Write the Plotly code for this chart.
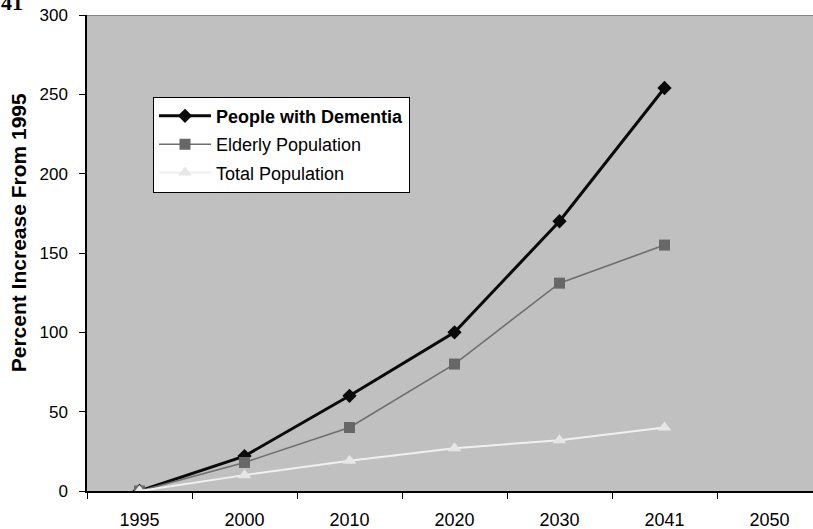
import plotly.graph_objects as go

# Census years shown on the category axis (2050 has no projection yet)
years = ["1995", "2000", "2010", "2020", "2030", "2041", "2050"]

# Percent increase from 1995
dementia = [0, 22, 60, 100, 170, 254, None]
elderly = [0, 18, 40, 80, 131, 155, None]
total_pop = [0, 10, 19, 27, 32, 40, None]

series_names = ["<b>People with Dementia</b>", "Elderly Population", "Total Population"]
y_ticks = [0, 50, 100, 150, 200, 250, 300]

FONT = "Liberation Sans, Arial, sans-serif"

fig = go.Figure()

fig.add_trace(go.Scatter(
    x=years, y=dementia, name=series_names[0], legendgroup="a",
    mode="lines+markers",
    line=dict(color="#0a0a0a", width=3),
    marker=dict(symbol="diamond", size=11, color="#0a0a0a"),
))
fig.add_trace(go.Scatter(
    x=years, y=elderly, name=series_names[1], legendgroup="b",
    mode="lines+markers",
    line=dict(color="#6e6e6e", width=1.6),
    marker=dict(symbol="square", size=11, color="#676767"),
))
fig.add_trace(go.Scatter(
    x=years, y=total_pop, name=series_names[2], legendgroup="c",
    mode="lines+markers",
    line=dict(color="#f0f0f0", width=2),
    marker=dict(symbol="triangle-up", size=12, color="#e6e6e6"),
))

# thin grey frame line along the top of the plotting area
fig.add_shape(type="line", xref="paper", yref="y", x0=0, x1=1, y0=300, y1=300,
              line=dict(color="#858585", width=2))

# vertical axis title
fig.add_annotation(
    text="<b>Percent Increase From 1995</b>", textangle=-90,
    xref="paper", yref="paper", x=-0.0943, y=0.5426,
    xanchor="center", yanchor="middle", showarrow=False,
    font=dict(family=FONT, size=21, color="#000000"),
)

# trailing fragment of the figure heading
fig.add_annotation(
    text="<b>41</b>", xref="paper", yref="paper",
    x=-87 / 726, y=1.026, xanchor="left", yanchor="middle",
    showarrow=False, borderpad=0,
    font=dict(family="Liberation Serif, Times New Roman, serif", size=22, color="#000000"),
)

fig.update_layout(
    width=813, height=529,
    margin=dict(l=87, r=0, t=15, b=38),
    paper_bgcolor="#ffffff",
    plot_bgcolor="#c0c0c0",
    font=dict(family=FONT, size=18, color="#000000"),
    showlegend=True,
    legend=dict(
        x=(153 - 87) / 726, y=(491 - 97) / 475.5,
        xanchor="left", yanchor="top",
        bgcolor="#ffffff", bordercolor="#000000", borderwidth=1,
        font=dict(family=FONT, size=18, color="#000000"),
        traceorder="grouped", tracegroupgap=2, itemwidth=52,
    ),
    xaxis=dict(
        type="category", categoryorder="array", categoryarray=years,
        range=[-0.5, -0.5 + 726 / 105],
        tickson="boundaries", ticks="outside", ticklen=6, tickcolor="#000000",
        showline=True, linecolor="#000000", linewidth=1.5,
        showgrid=False, zeroline=False,
        tickfont=dict(family=FONT, size=18, color="#000000"),
        ticklabelstandoff=12,
    ),
    yaxis=dict(
        range=[0, 300], tickvals=y_ticks,
        ticks="outside", ticklen=6, tickcolor="#000000",
        showline=True, linecolor="#000000", linewidth=1.5,
        showgrid=False, zeroline=False,
        tickfont=dict(family=FONT, size=17, color="#000000"),
        ticklabelstandoff=8,
    ),
)

fig.write_html("out.html")
